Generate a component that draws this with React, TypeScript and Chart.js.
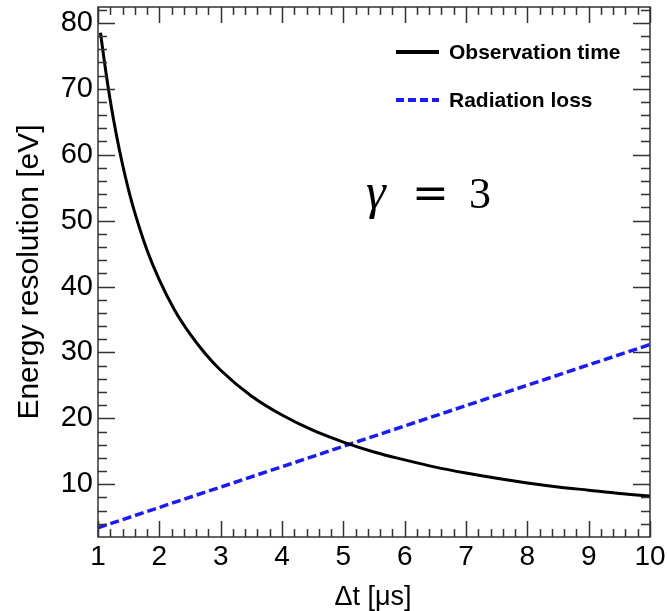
import React, { useEffect, useRef } from "react";
import { Chart, registerables } from "chart.js";

Chart.register(...registerables);

// Observation time curve (Δt in µs, energy resolution in eV)
const obsX = [1.04, 1.1, 1.2, 1.3, 1.4, 1.5, 1.6, 1.8, 2, 2.25, 2.5, 2.75, 3, 3.5, 4, 4.5, 5, 5.5, 6, 6.5, 7, 7.5, 8, 8.5, 9, 9.5, 10];
const obsY = [78.5, 74.4, 68.2, 63.0, 58.5, 54.6, 51.2, 45.5, 41.0, 36.4, 32.8, 29.8, 27.3, 23.4, 20.5, 18.2, 16.4, 14.9, 13.7, 12.6, 11.7, 10.9, 10.2, 9.6, 9.1, 8.6, 8.2];
// Radiation loss line
const radX = [1, 10];
const radY = [3.4, 31.2];
// Tick labels
const xTicks = [1, 2, 3, 4, 5, 6, 7, 8, 9, 10];
const yTicks = [10, 20, 30, 40, 50, 60, 70, 80];
const xMin = 1, xMax = 10, yMin = 2, yMax = 82.4;
const legendLabels = ["Observation time", "Radiation loss"];
const xTitle = "Δt [μs]";
const yTitle = "Energy resolution [eV]";

const framePlugin = {
  id: "rootFrame",
  afterDatasetsDraw(chart: any) {
    const { ctx, chartArea: a, scales } = chart;
    const x = scales.x, y = scales.y;
    ctx.save();
    ctx.strokeStyle = "#333";
    ctx.lineWidth = 1.5;
    ctx.strokeRect(a.left, a.top, a.right - a.left, a.bottom - a.top);
    ctx.beginPath();
    for (let i = 0; i <= 45; i++) {
      const v = xMin + i * 0.2;
      const px = Math.round(x.getPixelForValue(v)) + 0.5;
      const len = i % 5 === 0 ? 16 : 8;
      ctx.moveTo(px, a.bottom); ctx.lineTo(px, a.bottom - len);
      ctx.moveTo(px, a.top); ctx.lineTo(px, a.top + len);
    }
    for (let v = 4; v <= 82; v += 2) {
      const py = Math.round(y.getPixelForValue(v)) + 0.5;
      const len = v % 10 === 0 ? 17 : 9;
      ctx.moveTo(a.left, py); ctx.lineTo(a.left + len, py);
      ctx.moveTo(a.right, py); ctx.lineTo(a.right - len, py);
    }
    ctx.stroke();

    // legend
    ctx.lineWidth = 4;
    ctx.strokeStyle = "#000";
    ctx.setLineDash([]);
    ctx.beginPath(); ctx.moveTo(396, 52); ctx.lineTo(439, 52); ctx.stroke();
    ctx.strokeStyle = "#1a1aff";
    ctx.setLineDash([8, 4]);
    ctx.beginPath(); ctx.moveTo(396, 100); ctx.lineTo(439, 100); ctx.stroke();
    ctx.setLineDash([]);
    ctx.fillStyle = "#000";
    ctx.font = "bold 21px 'Liberation Sans', Arial, sans-serif";
    ctx.textBaseline = "middle";
    ctx.textAlign = "left";
    ctx.fillText(legendLabels[0], 449, 53);
    ctx.fillText(legendLabels[1], 449, 101);

    // gamma annotation
    ctx.textBaseline = "alphabetic";
    ctx.font = "italic 50px 'Liberation Serif', serif";
    ctx.fillText("γ", 366, 208);
    ctx.font = "44px 'DejaVu Serif', serif";
    ctx.fillText("=", 412, 208);
    ctx.font = "44px 'Liberation Serif', serif";
    ctx.fillText("3", 469, 208);

    // axis titles
    ctx.font = "27px 'Liberation Sans', Arial, sans-serif";
    ctx.textAlign = "center";
    ctx.fillText(xTitle, 373, 605);
    ctx.save();
    ctx.translate(30, 272);
    ctx.rotate(-Math.PI / 2);
    ctx.font = "30px 'Liberation Sans', Arial, sans-serif";
    ctx.textBaseline = "middle";
    ctx.fillText(yTitle, 0, 0);
    ctx.restore();
    ctx.restore();
  },
};

export default function App() {
  const ref = useRef<HTMLCanvasElement>(null);
  useEffect(() => {
    document.body.style.margin = "0";
    const canvas = ref.current!;
    const chart = new Chart(canvas, {
      type: "line",
      data: {
        datasets: [
          {
            label: legendLabels[0],
            data: obsX.map((v, i) => ({ x: v, y: obsY[i] })),
            borderColor: "#000",
            borderWidth: 3,
            pointRadius: 0,
            cubicInterpolationMode: "monotone",
            fill: false,
          },
          {
            label: legendLabels[1],
            data: radX.map((v, i) => ({ x: v, y: radY[i] })),
            borderColor: "#1a1aff",
            borderWidth: 3.5,
            borderDash: [9, 4],
            pointRadius: 0,
            fill: false,
          },
        ],
      },
      options: {
        animation: false,
        responsive: false,
        devicePixelRatio: 1,
        layout: { padding: { top: 7, right: 17, left: 0, bottom: 0 } },
        plugins: { legend: { display: false }, tooltip: { enabled: false } },
        scales: {
          x: {
            type: "linear",
            min: xMin,
            max: xMax,
            grid: { display: false, drawTicks: false },
            border: { display: false },
            ticks: {
              color: "#000",
              padding: 3,
              font: { family: "'Liberation Sans', Arial, sans-serif", size: 28 },
              maxRotation: 0,
            },
            afterBuildTicks: (s: any) => { s.ticks = xTicks.map((v) => ({ value: v })); },
            afterFit: (s: any) => { s.height = 74; s.paddingLeft = 0; s.paddingRight = 0; },
          },
          y: {
            type: "linear",
            min: yMin,
            max: yMax,
            grid: { display: false, drawTicks: false },
            border: { display: false },
            ticks: {
              color: "#000",
              padding: 5,
              font: { family: "'Liberation Sans', Arial, sans-serif", size: 29 },
            },
            afterBuildTicks: (s: any) => { s.ticks = yTicks.map((v) => ({ value: v })); },
            afterFit: (s: any) => { s.width = 98; s.paddingTop = 0; s.paddingBottom = 0; },
          },
        },
      },
      plugins: [framePlugin],
    } as any);
    return () => chart.destroy();
  }, []);
  return (
    <div style={{ width: 667, height: 611, background: "#fff" }}>
      <canvas ref={ref} width={667} height={611} style={{ display: "block" }} />
    </div>
  );
}
